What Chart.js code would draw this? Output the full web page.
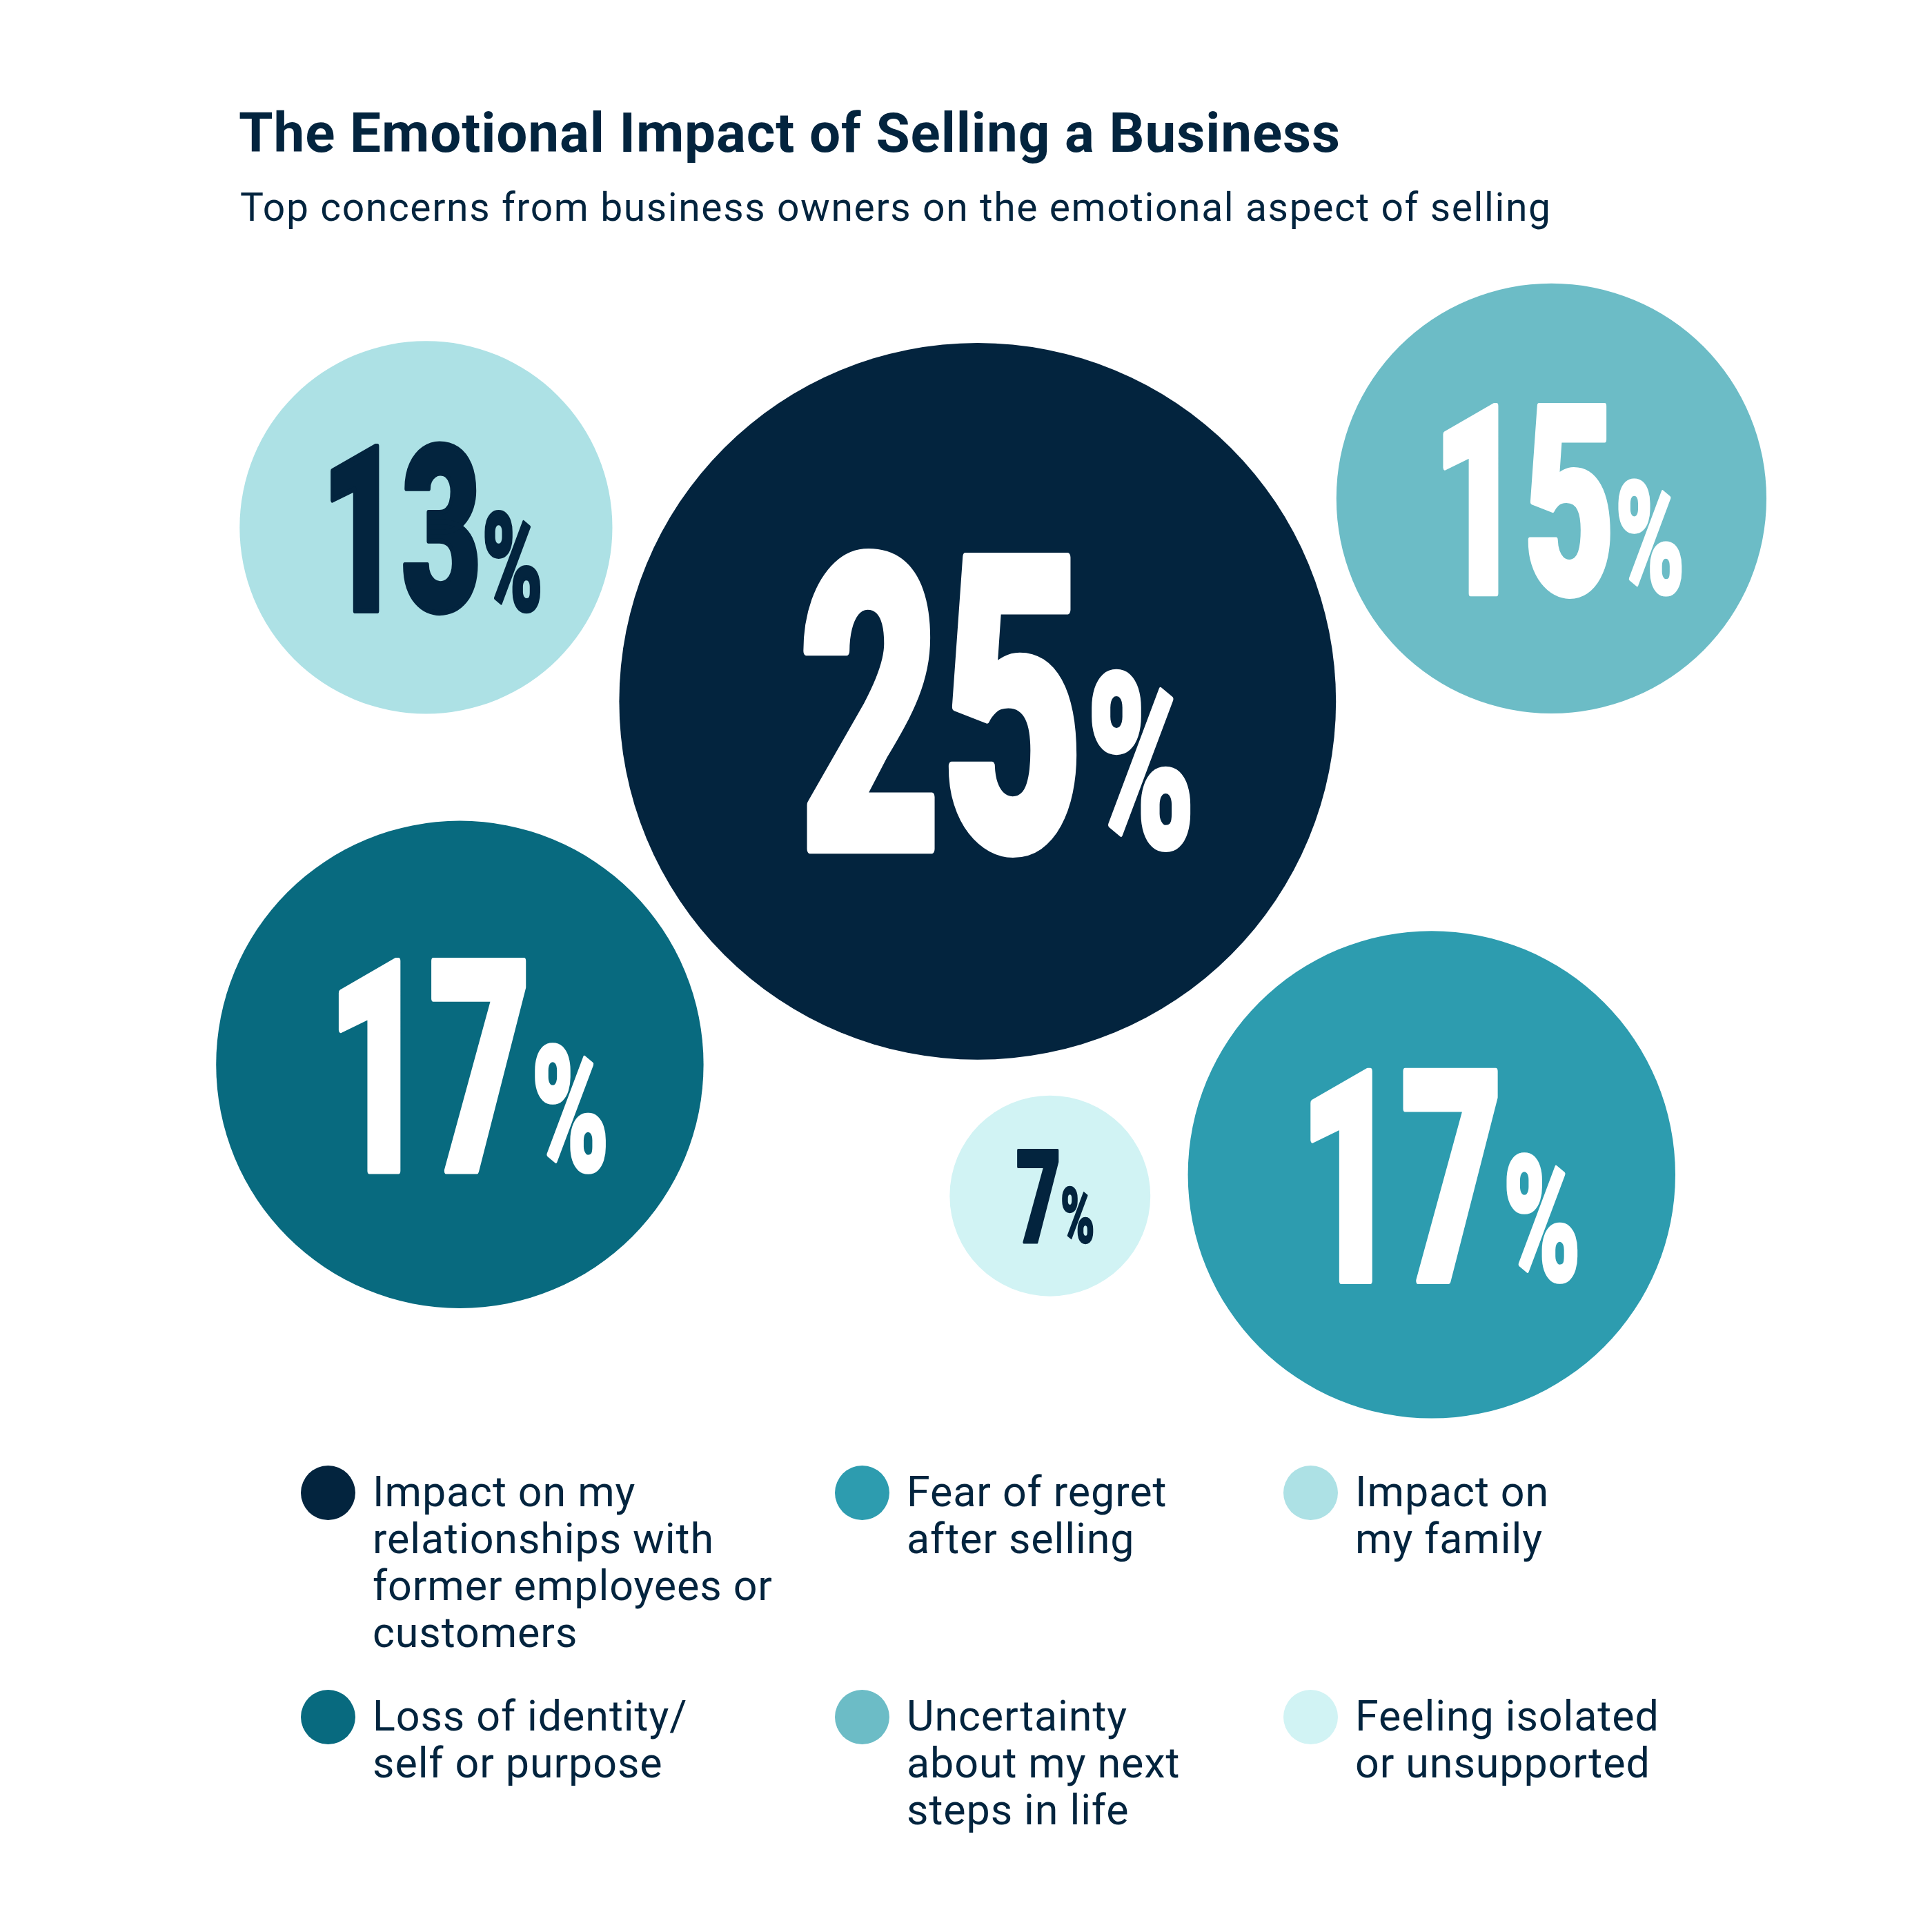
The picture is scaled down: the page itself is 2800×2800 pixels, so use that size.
<!DOCTYPE html>
<html>
<head>
<meta charset="utf-8">
<title>The Emotional Impact of Selling a Business</title>
<script src="https://cdn.jsdelivr.net/npm/chart.js@4.4.1/dist/chart.umd.min.js"></script>
<style>
  html, body { margin: 0; padding: 0; background: #fff; }
  #page {
    position: relative; width: 2800px; height: 2800px; background: #fff;
    font-family: Roboto, "Noto Sans", sans-serif; color: #03243e;
  }
  #chartBox { position: absolute; left: 0; top: 0; width: 2800px; height: 2800px; }
  h1 {
    position: absolute; left: 346px; top: 153px; margin: 0;
    font-size: 80px; line-height: 80px; font-weight: 700; white-space: nowrap;
    letter-spacing: 0.9px;
  }
  h2 {
    position: absolute; left: 348px; top: 272px; margin: 0;
    font-size: 57px; line-height: 57px; font-weight: 400; white-space: nowrap;
    letter-spacing: 1.6px;
  }
  #legend {
    position: absolute; left: 436px; top: 2124px;
    display: grid; grid-template-columns: 774px 650px 560px; grid-template-rows: 325px auto;
  }
  .item { display: flex; align-items: flex-start; }
  .dot { width: 79px; height: 79px; border-radius: 50%; flex: none; margin-right: 25px; }
  .txt { margin-top: 4px; font-size: 61px; line-height: 68px; white-space: nowrap; letter-spacing: 0.9px; }
</style>
</head>
<body>
<div id="page">
  <div id="chartBox"><canvas id="bubbles"></canvas></div>
  <h1 id="title"></h1>
  <h2 id="subtitle"></h2>
  <div id="legend"></div>
</div>
<script>
const chartTitle = 'The Emotional Impact of Selling a Business';
const chartSubtitle = 'Top concerns from business owners on the emotional aspect of selling';

// each concern, split the way the legend breaks its lines
const categories = [
	['Impact on my', 'relationships with', 'former employees or', 'customers'],
	['Loss of identity/', 'self or purpose'],
	['Fear of regret', 'after selling'],
	['Uncertainty', 'about my next', 'steps in life'],
	['Impact on', 'my family'],
	['Feeling isolated', 'or unsupported']
];
const shares = [25, 17, 17, 15, 13, 7];          // percent of owners
const bubbleX = [50.6, 23.8, 74.1, 80.3, 22.05, 54.35];
const bubbleY = [63.7, 44.9, 39.2, 74.2, 72.7, 38.1];

const colors = ['#03243e', '#086a7f', '#2d9caf', '#6cbcc6', '#ade1e5', '#d1f3f4'];
const labelColors = ['#ffffff', '#ffffff', '#ffffff', '#ffffff', '#03243e', '#03243e'];
const legendOrder = [0, 2, 4, 1, 3, 5];

document.getElementById('title').textContent = chartTitle;
document.getElementById('subtitle').textContent = chartSubtitle;

const legend = document.getElementById('legend');
legendOrder.forEach(i => {
	const item = document.createElement('div');
	item.className = 'item';
	item.innerHTML = '<span class="dot" style="background:' + colors[i] + '"></span>' +
		'<div class="txt">' + categories[i].join('<br>') + '</div>';
	legend.appendChild(item);
});

// big condensed "25%" style numbers inside every bubble
const percentLabels = {
	id: 'percentLabels',
	afterDatasetsDraw(chart) {
		const ctx = chart.ctx;
		const squeeze = 0.6;
		const font = s => '900 ' + s + 'px Roboto, sans-serif';
		chart.getDatasetMeta(0).data.forEach((el, i) => {
			const r = el.options.radius;
			const num = String(shares[i]);
			const digitH = r * (1 - 0.006 * shares[i]);
			const pctH = digitH * 0.6;
			const lw1 = digitH * 0.03;
			const lw2 = pctH * 0.03;

			ctx.save();
			ctx.font = font(100);
			const n100 = ctx.measureText(num);
			const p100 = ctx.measureText('%');
			const nSize = 100 * (digitH - lw1) / n100.actualBoundingBoxAscent;
			const pSize = 100 * (pctH - lw2) / (p100.actualBoundingBoxAscent + p100.actualBoundingBoxDescent);

			ctx.font = font(nSize);
			const nm = ctx.measureText(num);
			ctx.font = font(pSize);
			const pm = ctx.measureText('%');

			const w1 = (nm.actualBoundingBoxLeft + nm.actualBoundingBoxRight + lw1) * squeeze;
			const w2 = (pm.actualBoundingBoxLeft + pm.actualBoundingBoxRight + lw2) * squeeze;
			const gap = r * 0.03;
			const left = el.x - (w1 + gap + w2) / 2 + r * 0.05;
			const base = el.y + digitH / 2;

			ctx.fillStyle = labelColors[i];
			ctx.strokeStyle = labelColors[i];
			ctx.textAlign = 'left';
			ctx.textBaseline = 'alphabetic';
			ctx.lineJoin = 'round';

			ctx.translate(left, base);
			ctx.scale(squeeze, 1);
			ctx.font = font(nSize);
			ctx.lineWidth = lw1;
			const nx = nm.actualBoundingBoxLeft + lw1 / 2;
			ctx.fillText(num, nx, -lw1 / 2);
			ctx.strokeText(num, nx, -lw1 / 2);

			ctx.font = font(pSize);
			ctx.lineWidth = lw2;
			const px = (w1 + gap) / squeeze + pm.actualBoundingBoxLeft + lw2 / 2;
			const py = -lw2 / 2 - pm.actualBoundingBoxDescent;
			ctx.fillText('%', px, py);
			ctx.strokeText('%', px, py);
			ctx.restore();
		});
	}
};

const ctx = document.getElementById('bubbles').getContext('2d');

const bubbleChart = new Chart(ctx, {
	type: 'bubble',
	data: {
		datasets: [{
			label: 'Top concerns',
			data: shares.map((v, i) => ({ x: bubbleX[i], y: bubbleY[i], v: v })),
			backgroundColor: colors,
			borderWidth: 0,
			hoverBorderWidth: 0,
			radius: c => c.raw.v * c.chart.width * 0.00742,
			hoverRadius: 0,
			clip: false
		}]
	},
	options: {
		responsive: true,
		maintainAspectRatio: false,
		devicePixelRatio: 1,
		animation: false,
		events: [],
		layout: { padding: 0, autoPadding: false },
		plugins: {
			legend: { display: false },
			title: { display: false },
			tooltip: { enabled: false }
		},
		scales: {
			x: { type: 'linear', min: 0, max: 100, display: false },
			y: { type: 'linear', min: 0, max: 100, display: false }
		}
	},
	plugins: [percentLabels]
});
</script>
</body>
</html>
